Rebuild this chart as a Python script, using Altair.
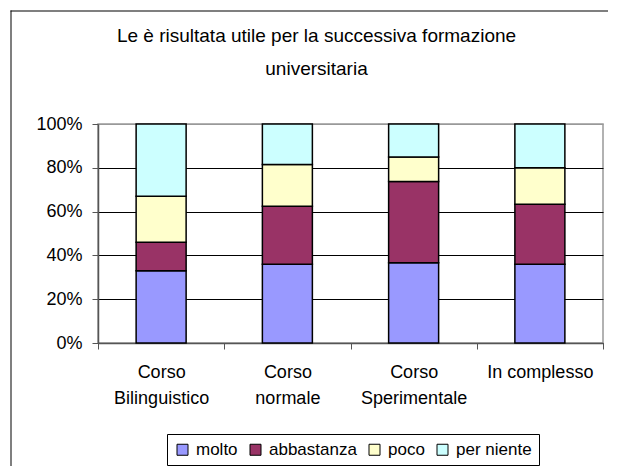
import altair as alt
import pandas as pd

categories = ["Corso Bilinguistico", "Corso normale", "Corso Sperimentale", "In complesso"]
series = ["molto", "abbastanza", "poco", "per niente"]
molto = [33.0, 36.0, 36.6, 36.0]
abbastanza = [13.0, 26.5, 37.2, 27.4]
poco = [21.0, 19.0, 11.1, 16.6]
per_niente = [33.0, 18.5, 15.1, 20.0]
colors = ["#9999FF", "#993366", "#FFFFCC", "#CCFFFF"]
title_lines = ["Le è risultata utile per la successiva formazione", "universitaria"]

rows = []
for s_i, (name, vals) in enumerate(zip(series, [molto, abbastanza, poco, per_niente])):
    for c, v in zip(categories, vals):
        rows.append({"categoria": c, "serie": name, "valore": v, "ordine": s_i})
df = pd.DataFrame(rows)

FONT = "Liberation Sans"

bars = alt.Chart(df).mark_bar(size=50, stroke="black", strokeWidth=1.5).encode(
    x=alt.X("categoria:N", sort=categories, title=None,
            scale=alt.Scale(paddingInner=0, paddingOuter=0),
            axis=alt.Axis(labelAngle=0, tickBand="extent", tickSize=6, tickColor="#555555",
                          domainColor="#555555", domainWidth=1.5, labelFontSize=18,
                          labelFont=FONT, labelColor="black", labelPadding=14,
                          labelLineHeight=26, labelBaseline="top",
                          labelExpr="!isValid(datum.value) ? '' : (datum.value == 'In complesso' ? datum.value : split(datum.value, ' '))")),
    y=alt.Y("valore:Q", stack="normalize", title=None,
            scale=alt.Scale(domain=[0, 1]),
            axis=alt.Axis(format=".0%", values=[0, 0.2, 0.4, 0.6, 0.8, 1.0], tickSize=6,
                          tickColor="#555555", domainColor="#555555", domainWidth=1.5,
                          labelFontSize=18, labelFont=FONT, labelColor="black", labelPadding=10,
                          grid=True,
                          gridColor=alt.condition("datum.value == 1", alt.value("#999999"), alt.value("black")),
                          gridWidth=1)),
    color=alt.Color("serie:N", sort=series,
                    scale=alt.Scale(domain=series, range=colors),
                    legend=alt.Legend(title=None, orient="none", legendX=69, legendY=310,
                                      direction="horizontal", columns=4, symbolType="square",
                                      symbolSize=121, symbolStrokeColor="black", symbolStrokeWidth=1,
                                      labelFontSize=17, labelFont=FONT, labelColor="black",
                                      labelOffset=5, columnPadding=9, padding=7,
                                      strokeColor="black", fillColor="white")),
    order=alt.Order("ordine:Q", sort="ascending"),
)

frame_df = pd.DataFrame({"a": [0]})
frame_left = alt.Chart(frame_df).mark_rect(fill="black", strokeWidth=0).encode(
    x=alt.value(-87.5), x2=alt.value(-86.5), y=alt.value(-113.5), y2=alt.value(400)
)
frame_top = alt.Chart(frame_df).mark_rect(fill="black", strokeWidth=0).encode(
    x=alt.value(-87.5), x2=alt.value(520), y=alt.value(-113.5), y2=alt.value(-112.5)
)

chart = alt.layer(bars, frame_left, frame_top).properties(
    width=505, height=219,
    autosize=alt.AutoSizeParams(type="none"),
    padding={"left": 90, "top": 116, "right": 5, "bottom": 123},
    title=alt.TitleParams(text=title_lines, anchor="middle", frame="group", dx=-34, offset=-68,
                          fontSize=19, font=FONT, fontWeight="normal", color="black",
                          lineHeight=33),
).configure_view(stroke="#999999", strokeWidth=1.5)

chart.save("out.html", embed_options={"renderer": "svg", "actions": False})
